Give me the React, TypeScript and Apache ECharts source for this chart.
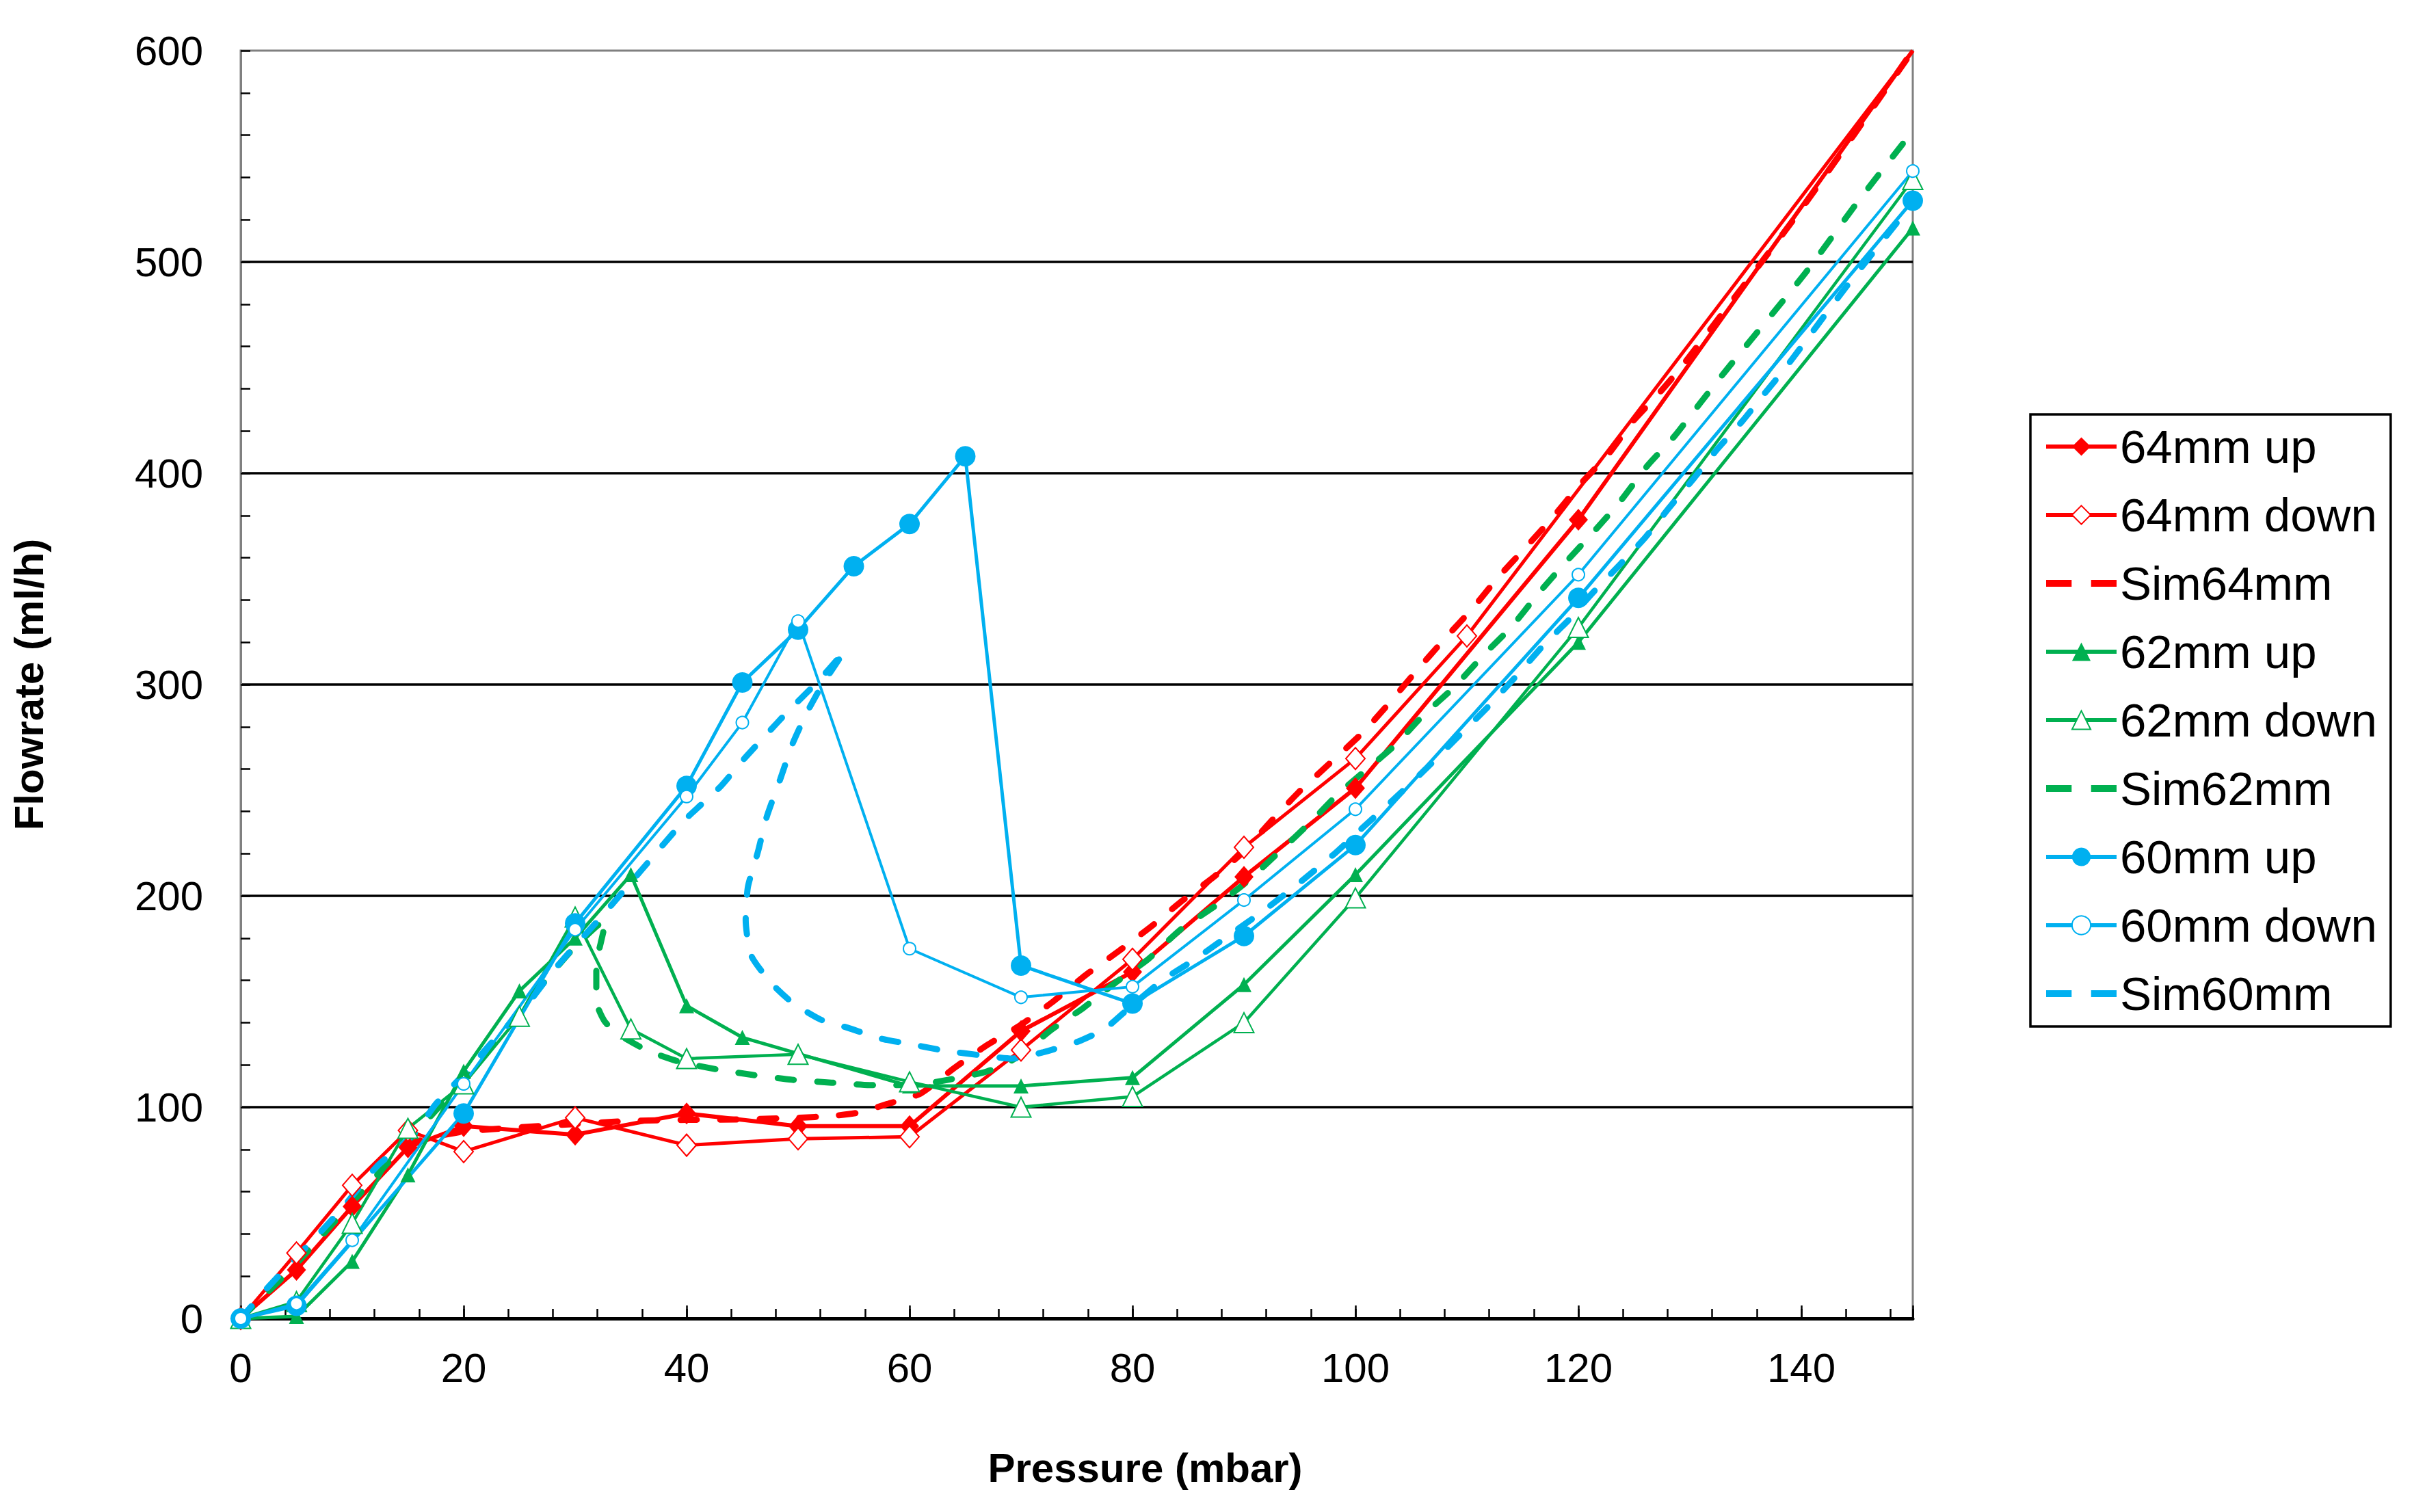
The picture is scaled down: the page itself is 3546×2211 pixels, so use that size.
import React, { useEffect, useRef } from "react";
import * as echarts from "echarts";

// ---- Data ----
const xTickLabels = [0, 20, 40, 60, 80, 100, 120, 140];

const up64X = [0, 5, 10, 15, 20, 30, 40, 50, 60, 70, 80, 90, 100, 120, 150];
const up64Y = [0, 23, 53, 81, 91, 87, 97, 91, 91, 136, 164, 209, 251, 378, 600];

const down64X = [0, 5, 10, 15, 20, 30, 40, 50, 60, 70, 80, 90, 100, 110, 150];
const down64Y = [0, 31, 63, 89, 79, 95, 82, 85, 86, 127, 170, 223, 265, 323, 600];

const sim64: number[][] = [
  [0, 0], [5, 27], [10, 55], [15, 82], [17.5, 86], [20, 88.5], [25, 90.5], [30, 92],
  [35, 93.5], [40, 94], [45, 94.2], [50, 95], [53, 95.8], [55.5, 97.5], [58, 101.5],
  [61, 106.5], [64, 118.5], [67, 129.5], [70, 139], [73, 150.5], [75.8, 162.5],
  [78.8, 174], [81.8, 186], [84.3, 197], [87.3, 209], [90, 221], [92.2, 234],
  [94.9, 249], [97.9, 263.7], [100.7, 277.5], [103, 291], [105.4, 306], [107.9, 321],
  [110.5, 336], [112.8, 350.7], [115.3, 365], [117.8, 379.7], [120.2, 395],
  [122.7, 409], [124.9, 424.6], [127.1, 437], [129.3, 450.7], [140, 525], [150, 600],
];

const up62X = [0, 5, 10, 15, 20, 25, 30, 35, 40, 45, 60, 70, 80, 90, 100, 120, 150];
const up62Y = [0, 1, 27, 68, 117, 155, 180, 210, 148, 133, 110, 110, 114, 158, 210, 320, 516];

const down62X = [0, 5, 10, 15, 20, 25, 30, 35, 40, 50, 60, 70, 80, 90, 100, 120, 150];
const down62Y = [0, 8, 45, 90, 111, 143, 190, 137, 123, 125, 112, 100, 105, 140, 199, 327, 539];

const sim62: number[][] = [
  [0, 0], [5, 26], [10, 55], [15, 84], [20, 113], [25, 145], [28, 164], [30, 176],
  [31.8, 185], [32.8, 189], [32.4, 180], [31.9, 167], [31.9, 150], [32.6, 141],
  [33.6, 135.5], [36.4, 127], [39.3, 121.6], [42.6, 118], [46, 115.2], [49.4, 113],
  [53, 111.6], [56.7, 110.4], [60.4, 110.5], [63.5, 113], [67, 117], [69.8, 124],
  [72.7, 136.5], [75.6, 147], [78.5, 159], [81.4, 170], [84.3, 184], [87.5, 195.5],
  [90.1, 206], [92.8, 219], [96, 235], [98.6, 249], [103.5, 271], [106, 285],
  [108.8, 298.5], [111.5, 314], [114, 327.3], [116.4, 343], [118.8, 357.5],
  [121.5, 373], [123.8, 387], [126.2, 403.6], [128.6, 417.4], [130.9, 433],
  [133.3, 449], [140.4, 495], [145, 528], [150, 562],
];

const up60X = [0, 5, 20, 30, 40, 45, 50, 55, 60, 65, 70, 80, 90, 100, 120, 150];
const up60Y = [0, 6, 97, 187, 252, 301, 326, 356, 376, 408, 167, 149, 181, 224, 341, 529];

const down60X = [0, 5, 10, 20, 30, 40, 45, 50, 60, 70, 80, 90, 100, 120, 150];
const down60Y = [0, 7, 37, 111, 184, 247, 282, 330, 175, 152, 157, 198, 241, 352, 543];

const sim60: number[][] = [
  [0, 0], [2.4, 14.5], [4.7, 27.3], [6.9, 39.4], [9.3, 53.4], [12.2, 71.9],
  [15.6, 87.6], [17.5, 101.5], [20.4, 117.7], [22.5, 130.5], [25.6, 147.9],
  [27.8, 163], [29.5, 173.4], [32.5, 191], [36, 212.5], [39.8, 235.7], [43, 251.5],
  [45.1, 264.5], [47.2, 276.6], [49, 286.8], [51.8, 301.6], [54.2, 316],
  [52.3, 301], [50.8, 286.8], [49.5, 271.9], [48.4, 255.2], [47.2, 237.6],
  [46.4, 220.9], [45.5, 204.2], [45.3, 188.5], [45.8, 171.7], [47.6, 158.7],
  [49.5, 149.4], [52, 141.5], [54.5, 137.5], [57.4, 132.5], [60.3, 129.6],
  [63.2, 126.7], [66.5, 124.5], [69.2, 123], [72, 126], [75.1, 131], [77.5, 137],
  [79.5, 146], [82.8, 160.5], [85.5, 169.6], [88.7, 181.5], [91.9, 193.5],
  [95.4, 208], [98.2, 220.3], [100.8, 233], [103.5, 246], [106.3, 260],
  [109.1, 274.7], [111.9, 289.5], [114.6, 305], [116.9, 318.8], [119.1, 330.4],
  [121.3, 343.5], [123.8, 357.2], [126, 369.6], [128.2, 384], [130.4, 397.8],
  [132.5, 411.6], [134.7, 424.6], [136.7, 437.7], [138.6, 450], [144, 488], [150, 528],
];

const seriesNames = [
  "64mm up", "64mm down", "Sim64mm",
  "62mm up", "62mm down", "Sim62mm",
  "60mm up", "60mm down", "Sim60mm",
];
const simNames = ["Sim64mm", "Sim62mm", "Sim60mm"];

const RED = "#FF0000";
const GREEN = "#00B050";
const BLUE = "#00B0F0";
const FONT = "'Liberation Sans', Arial, sans-serif";
// legend icon for the simulated (dashed) series: two short dashes
const DASH_ICON = "path://M0,0h34v9h-34zM60,0h34v9h-34z";

const pairs = (xs: number[], ys: number[], hideLast = false) =>
  xs.map((x, i) =>
    hideLast && i === xs.length - 1 ? { value: [x, ys[i]], symbol: "none" } : [x, ys[i]]
  );

const measured = (
  name: string, data: any[], color: string, symbol: string,
  size: number | number[], width: number, border = 3.5
) => ({
  name, type: "line", data, symbol, symbolSize: size, showAllSymbol: true,
  lineStyle: { color, width },
  itemStyle: { color, borderColor: color, borderWidth: symbol.startsWith("empty") ? border : 0 },
  emphasis: { disabled: true },
});

const simulated = (name: string, data: number[][], color: string) => ({
  name, type: "line", data, symbol: "none", smooth: 0.2,
  lineStyle: { color, width: 9, type: [24, 34], cap: "round" },
  itemStyle: { color },
  emphasis: { disabled: true },
});

export default function App() {
  const ref = useRef<HTMLDivElement>(null);

  useEffect(() => {
    if (!ref.current) return;
    const chart = echarts.init(ref.current, undefined, { renderer: "svg" });
    const option = {
      animation: false,
      backgroundColor: "#ffffff",
      grid: {
        left: 352, top: 74, width: 2445, height: 1854,
        show: true, borderColor: "#808080", borderWidth: 3, backgroundColor: "transparent",
      },
      legend: {
        orient: "vertical",
        left: 2969, top: 606,
        padding: [7, 20, 8, 20],
        itemWidth: 103, itemHeight: 34, itemGap: 20,
        borderColor: "#000", borderWidth: 3.5,
        lineStyle: { width: 6 },
        textStyle: { fontSize: 69, fontFamily: FONT, color: "#000", lineHeight: 80 },
        data: seriesNames.map((n) => (simNames.indexOf(n) >= 0 ? { name: n, icon: DASH_ICON } : n)),
      },
      xAxis: [
        {
          type: "value", min: 0, max: 150, interval: 4, position: "bottom",
          name: "Pressure (mbar)", nameLocation: "middle", nameGap: 188,
          nameTextStyle: { fontFamily: FONT, fontSize: 60, fontWeight: "bold", color: "#000", padding: [0, 0, 0, 200] },
          axisLine: { show: true, onZero: false, lineStyle: { color: "#000", width: 5 } },
          axisTick: { show: true, inside: true, length: 14, lineStyle: { color: "#000", width: 2.5 } },
          axisLabel: {
            fontFamily: FONT, fontSize: 60, color: "#000", margin: 42,
            formatter: (v: number) => (xTickLabels.indexOf(v) >= 0 ? String(v) : ""),
          },
          splitLine: { show: false },
        },
        {
          type: "value", min: 0, max: 150, interval: 20, position: "bottom",
          axisLine: { show: false, onZero: false },
          axisTick: { show: true, inside: true, length: 19, lineStyle: { color: "#000", width: 2.5 } },
          axisLabel: { show: false },
          splitLine: { show: false },
        },
      ],
      yAxis: {
        type: "value", min: 0, max: 600, interval: 100,
        name: "Flowrate (ml/h)", nameLocation: "middle", nameGap: 280,
        nameTextStyle: { fontFamily: FONT, fontSize: 60, fontWeight: "bold", color: "#000" },
        axisLine: { show: true, lineStyle: { color: "#808080", width: 3 } },
        axisTick: { show: true, inside: true, length: 14, lineStyle: { color: "#000", width: 2.5 } },
        minorTick: { show: true, splitNumber: 5, length: 14, lineStyle: { color: "#000", width: 2.5 } },
        axisLabel: { fontFamily: FONT, fontSize: 60, color: "#000", margin: 55 },
        splitLine: { show: true, showMaxLine: false, lineStyle: { color: "#000", width: 3.5 } },
      },
      series: [
        measured("64mm up", pairs(up64X, up64Y, true), RED, "diamond", [28, 32], 6),
        measured("64mm down", pairs(down64X, down64Y, true), RED, "emptyDiamond", [28, 32], 5),
        simulated("Sim64mm", sim64, RED),
        measured("62mm up", pairs(up62X, up62Y), GREEN, "triangle", 22, 5),
        measured("62mm down", pairs(down62X, down62Y), GREEN, "emptyTriangle", 29, 4.5),
        simulated("Sim62mm", sim62, GREEN),
        measured("60mm up", pairs(up60X, up60Y), BLUE, "circle", 30, 5),
        measured("60mm down", pairs(down60X, down60Y), BLUE, "emptyCircle", 18, 4),
        simulated("Sim60mm", sim60, BLUE),
      ],
    };
    chart.setOption(option as any);
    return () => chart.dispose();
  }, []);

  return (
    <div
      ref={ref}
      style={{ position: "fixed", left: 0, top: 0, width: 3546, height: 2211, background: "#fff" }}
    />
  );
}
